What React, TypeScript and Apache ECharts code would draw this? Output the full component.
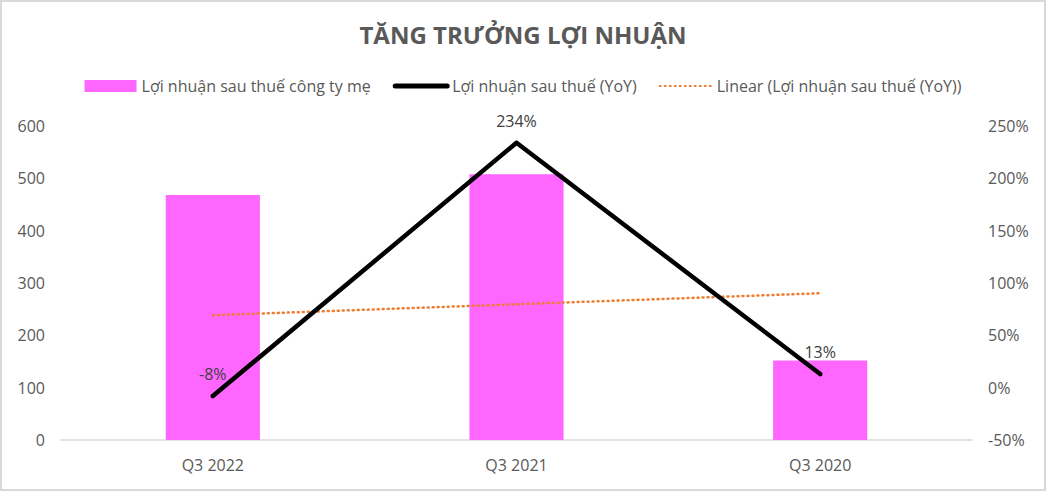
import React, { useEffect, useRef } from 'react';
import * as echarts from 'echarts';

const categories = ['Q3 2022', 'Q3 2021', 'Q3 2020'];
const profitValues = [468, 508, 152];
const yoyValues = [-8, 234, 13];
const trendValues = [69.2, 79.7, 90.2];

const FONT = "'Liberation Sans Narrow', 'Open Sans', sans-serif";
const TEXT = '#595959';

export default function App() {
  const ref = useRef<HTMLDivElement>(null);

  useEffect(() => {
    if (!ref.current) return;
    const chart = echarts.init(ref.current, undefined, { renderer: 'svg' });
    chart.setOption({
      animation: false,
      backgroundColor: '#ffffff',
      textStyle: { fontFamily: FONT, color: TEXT },
      title: {
        text: 'TĂNG TRƯỞNG LỢI NHUẬN',
        left: 'center',
        top: 15,
        textStyle: { fontFamily: FONT, fontSize: 24, fontWeight: 'bold', color: TEXT },
      },
      legend: {
        top: 71,
        left: 'center',
        itemWidth: 52,
        itemHeight: 12,
        itemGap: 22,
        textStyle: { fontFamily: FONT, fontSize: 16, color: TEXT },
        data: [
          { name: 'Lợi nhuận sau thuế công ty mẹ', icon: 'rect' },
          { name: 'Lợi nhuận sau thuế (YoY)', itemStyle: { opacity: 0 }, lineStyle: { width: 5 } },
          { name: 'Linear (Lợi nhuận sau thuế (YoY))', itemStyle: { opacity: 0 } },
        ],
      },
      grid: { left: 59, right: 72, top: 124, bottom: 49 },
      xAxis: {
        type: 'category',
        data: categories,
        axisLine: { lineStyle: { color: '#d9d9d9', width: 1.5 } },
        axisTick: { show: false },
        axisLabel: { color: TEXT, fontSize: 16, fontFamily: FONT, margin: 17 },
      },
      yAxis: [
        {
          type: 'value',
          min: 0,
          max: 600,
          interval: 100,
          splitLine: { show: false },
          axisLine: { show: false },
          axisTick: { show: false },
          axisLabel: { color: TEXT, fontSize: 16, fontFamily: FONT, margin: 16 },
        },
        {
          type: 'value',
          min: -50,
          max: 250,
          interval: 50,
          splitLine: { show: false },
          axisLine: { show: false },
          axisTick: { show: false },
          axisLabel: { color: TEXT, fontSize: 16, fontFamily: FONT, margin: 16, formatter: '{value}%' },
        },
      ],
      series: [
        {
          name: 'Lợi nhuận sau thuế công ty mẹ',
          type: 'bar',
          data: profitValues,
          barWidth: '31%',
          itemStyle: { color: '#ff66ff' },
        },
        {
          name: 'Lợi nhuận sau thuế (YoY)',
          type: 'line',
          yAxisIndex: 1,
          data: yoyValues,
          symbol: 'circle',
          symbolSize: 4,
          showSymbol: true,
          z: 4,
          itemStyle: { color: '#000000' },
          lineStyle: { color: '#000000', width: 4.5, cap: 'round', join: 'round' },
          label: {
            show: true,
            position: 'top',
            distance: 12,
            formatter: '{c}%',
            color: '#404040',
            fontSize: 16,
            fontFamily: FONT,
          },
        },
        {
          name: 'Linear (Lợi nhuận sau thuế (YoY))',
          type: 'line',
          yAxisIndex: 1,
          data: trendValues,
          symbol: 'none',
          z: 3,
          itemStyle: { color: '#ed7d31' },
          lineStyle: { color: '#ed7d31', width: 2.5, type: [1, 4], cap: 'round' },
        },
      ],
    });
    return () => chart.dispose();
  }, []);

  return (
    <div
      ref={ref}
      style={{
        position: 'fixed',
        left: 0,
        top: 0,
        width: 1046,
        height: 491,
        boxSizing: 'border-box',
        border: '2px solid #d9d9d9',
      }}
    />
  );
}
